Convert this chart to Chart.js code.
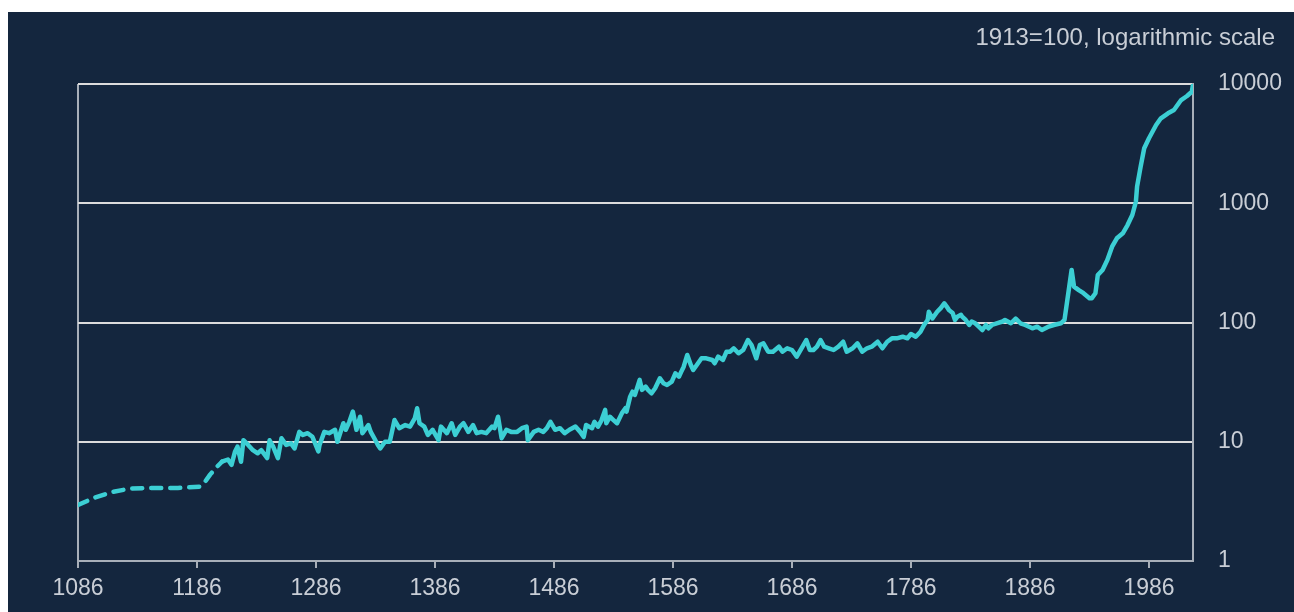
<!DOCTYPE html>
<html>
<head>
<meta charset="utf-8">
<title>Price index since 1086</title>
<script src="https://cdn.jsdelivr.net/npm/chart.js@4.4.0/dist/chart.umd.min.js"></script>
<style>
    html, body { margin: 0; padding: 0; background: #ffffff; }
    #wrap { position: absolute; left: 8px; top: 12px; width: 1286px; height: 600px; background: #14263e; }
</style>
</head>
<body>
<div id="wrap"><canvas id="priceChart" width="1286" height="600"></canvas></div>
<script>
    // Data (1913 = 100)
    const years = [
        1086, 1100, 1115, 1130, 1150, 1170, 1188, 1192, 1197, 1203, 1207,
        1212, 1215, 1218, 1220, 1223, 1225, 1229, 1233, 1237, 1240, 1245, 1247, 1250, 1254, 1257, 1261, 1265, 1268,
        1272, 1275, 1279, 1283, 1288, 1289, 1293, 1297, 1302, 1304, 1309, 1311, 1314, 1317, 1320, 1323, 1325, 1330,
        1332, 1335, 1338, 1340, 1344, 1348, 1352, 1356, 1361, 1365, 1369, 1371, 1373, 1377, 1380, 1384, 1389, 1391,
        1396, 1400, 1403, 1407, 1410, 1414, 1418, 1421, 1425, 1429, 1434, 1436, 1439, 1442, 1446, 1450, 1455, 1459,
        1463, 1464, 1469, 1473, 1477, 1480, 1483, 1487, 1491, 1495, 1499, 1504, 1508, 1511, 1513, 1518, 1520, 1523,
        1526, 1529, 1530, 1533, 1536, 1539, 1543, 1546, 1547, 1550, 1552, 1554, 1558, 1560, 1563, 1565, 1568, 1571,
        1575, 1578, 1581, 1585, 1588, 1591, 1593, 1595, 1598, 1601, 1603, 1606, 1610, 1614, 1619, 1621, 1624, 1628,
        1631, 1634, 1637, 1641, 1645, 1649, 1652, 1656, 1659, 1662, 1666, 1670, 1675, 1678, 1682, 1686, 1690, 1694,
        1698, 1701, 1704, 1707, 1710, 1713, 1717, 1721, 1725, 1729, 1732, 1737, 1741, 1745, 1749, 1753, 1758, 1762,
        1766, 1770, 1774, 1779, 1783, 1786, 1790, 1794, 1797, 1800, 1801, 1804, 1808, 1811, 1814, 1816, 1818, 1821,
        1823, 1825, 1828, 1829, 1832, 1835, 1837, 1840, 1843, 1846, 1849, 1851, 1854, 1858, 1863, 1865, 1870, 1874,
        1878, 1882, 1888, 1892, 1896, 1901, 1906, 1912, 1915, 1919, 1921, 1923, 1927, 1931, 1936, 1938, 1941, 1943,
        1947, 1951, 1955, 1959, 1964, 1968, 1972, 1975, 1976, 1979, 1982, 1986, 1992, 1996, 2002, 2007, 2013, 2018,
        2022, 2023
    ];
    const priceIndex = [
        2.95, 3.4, 3.8, 4.05, 4.1, 4.1, 4.2, 4.5, 5.3, 6.2, 6.8,
        7.1, 6.4, 8.3, 9.1, 6.8, 10.3, 9.4, 8.5, 8.0, 8.5, 7.3, 10.3, 9.1, 7.3, 10.7, 9.4, 9.7, 8.8,
        12.1, 11.4, 11.8, 11.0, 8.3, 9.4, 12.1, 11.8, 12.6, 10.0, 14.3, 12.6, 14.7, 17.9, 12.6, 16.2, 11.8, 13.8,
        12.1, 10.7, 9.4, 8.8, 10.0, 10.0, 15.2, 13.0, 13.8, 13.4, 15.7, 19.1, 14.3, 13.4, 11.4, 12.6, 10.3, 13.4,
        11.8, 14.3, 11.4, 13.4, 14.3, 12.1, 13.8, 11.8, 12.1, 11.8, 13.4, 13.0, 16.2, 10.7, 12.6, 12.1, 12.1, 13.0,
        13.4, 10.3, 12.1, 12.6, 12.1, 13.0, 14.7, 12.6, 13.0, 11.8, 12.6, 13.4, 12.1, 11.0, 13.8, 13.0, 14.7, 13.4,
        15.2, 18.5, 14.3, 16.2, 15.2, 14.3, 17.3, 19.1, 17.9, 23.9, 26.3, 24.7, 33.0, 27.2, 29.0, 27.2, 25.5, 28.1,
        34.1, 30.9, 29.9, 31.9, 37.5, 35.1, 38.7, 42.6, 53.4, 44.0, 40.0, 44.0, 50.1, 50.1, 48.5, 45.5, 51.7, 48.5,
        56.9, 56.9, 60.8, 55.2, 58.8, 71.3, 64.8, 50.1, 64.8, 66.9, 56.9, 56.9, 62.7, 56.9, 60.8, 58.8, 51.7, 60.8,
        71.3, 58.8, 58.8, 62.7, 71.3, 62.7, 60.8, 58.8, 62.7, 69.0, 56.9, 60.8, 66.9, 56.9, 60.8, 62.7, 69.0, 60.8,
        69.0, 73.7, 73.7, 76.0, 73.7, 80.1, 76.0, 83.7, 95.3, 105, 123, 108, 123, 132, 145, 136, 127, 120,
        105, 112, 116, 112, 105, 95.3, 102, 98.5, 92.2, 86.5, 95.3, 89.4, 95.3, 98.5, 102, 105, 98.5, 108,
        98.5, 95.3, 89.4, 92.2, 86.5, 91.7, 95.3, 98.5, 105, 200, 276, 200, 187, 176, 160, 160, 176, 250,
        276, 334, 432, 508, 560, 657, 797, 1030, 1376, 2025, 2890, 3505, 4532, 5158, 5680, 6053, 7340, 7933,
        8620, 9807
    ];
    const dashedUntil = 1207;
    const xTickYears = [1086, 1186, 1286, 1386, 1486, 1586, 1686, 1786, 1886, 1986];
    const yTickValues = [1, 10, 100, 1000, 10000];
    const captionText = '1913=100, logarithmic scale';

    const textColor = '#c9ced6';
    const axisGray = '#a8afb9';
    const gridWhite = '#dcdcdc';
    const fontFamily = '"Liberation Sans", Arial, sans-serif';

    const points = years.map((yr, i) => ({ x: yr, y: priceIndex[i] }));

    // caption sits top right, above the value labels
    const captionPlugin = {
        id: 'caption',
        afterDraw(chart) {
            const c = chart.ctx;
            c.save();
            c.font = '24px ' + fontFamily;
            c.fillStyle = textColor;
            c.textAlign = 'right';
            c.textBaseline = 'middle';
            c.fillText(captionText, chart.width - 19, 26);
            c.restore();
        }
    };

    const ctx = document.getElementById('priceChart').getContext('2d');
    new Chart(ctx, {
        type: 'line',
        data: {
            datasets: [{
                data: points,
                borderColor: '#3ccfd4',
                borderWidth: 4.5,
                borderCapStyle: 'round',
                borderJoinStyle: 'round',
                pointRadius: 0,
                tension: 0,
                segment: {
                    borderDash: c => c.p1.parsed.x <= dashedUntil ? [10, 9] : undefined
                }
            }]
        },
        options: {
            responsive: false,
            animation: false,
            devicePixelRatio: 1,
            layout: { padding: { left: 70, right: 0, top: 72, bottom: 0 } },
            plugins: {
                legend: { display: false },
                tooltip: { enabled: false },
                title: { display: false }
            },
            scales: {
                x: {
                    type: 'linear',
                    min: 1086,
                    max: 2023,
                    afterBuildTicks: s => { s.ticks = xTickYears.map(v => ({ value: v })); },
                    afterFit: s => { s.height = 51; },
                    grid: {
                        color: c => (c.tick && c.tick.value === 1086) ? axisGray : 'rgba(0,0,0,0)',
                        lineWidth: 2,
                        drawTicks: true,
                        tickLength: 7,
                        tickColor: axisGray,
                        tickWidth: 2
                    },
                    border: { display: true, color: axisGray, width: 2 },
                    ticks: {
                        color: textColor,
                        font: { family: fontFamily, size: 23 },
                        padding: 7,
                        maxRotation: 0,
                        callback: v => String(v)
                    }
                },
                y: {
                    type: 'logarithmic',
                    position: 'right',
                    min: 1,
                    max: 10000,
                    afterBuildTicks: s => { s.ticks = yTickValues.map(v => ({ value: v })); },
                    afterFit: s => { s.width = 101; },
                    grid: {
                        color: c => (c.tick && c.tick.value === 1) ? 'rgba(0,0,0,0)' : gridWhite,
                        lineWidth: 2,
                        drawTicks: false
                    },
                    border: { display: true, color: axisGray, width: 2 },
                    ticks: {
                        color: textColor,
                        font: { family: fontFamily, size: 23 },
                        padding: 25,
                        callback: v => String(v)
                    }
                }
            }
        },
        plugins: [captionPlugin]
    });
</script>
</body>
</html>
